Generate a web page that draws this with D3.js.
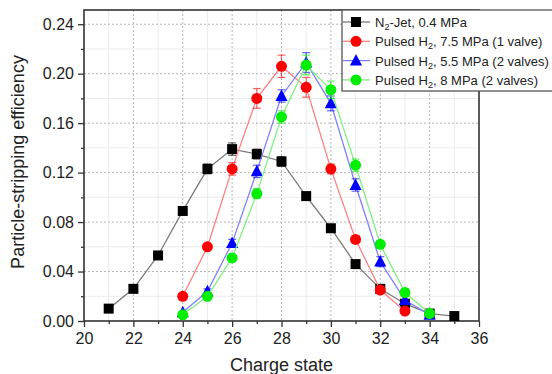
<!DOCTYPE html>
<html>
<head>
<meta charset="utf-8">
<script src="https://cdn.jsdelivr.net/npm/d3@7"></script>
<style>
  body { margin: 0; background: #fff; }
  svg { display: block; font-family: "Liberation Sans", Arial, sans-serif; }
</style>
</head>
<body>
<div id="chart"></div>
<script>
// charge states per series
const xN2 = [21, 22, 23, 24, 25, 26, 27, 28, 29, 30, 31, 32, 33, 34, 35];
const xH2 = [24, 25, 26, 27, 28, 29, 30, 31, 32, 33, 34];

const yN2 = [0.010, 0.026, 0.053, 0.089, 0.123, 0.139, 0.135, 0.129, 0.101, 0.075, 0.046, 0.026, 0.014, 0.006, 0.004];
const eN2 = [0.002, 0.002, 0.002, 0.003, 0.004, 0.005, 0.004, 0.004, 0.003, 0.002, 0.002, 0.002, 0.002, 0.001, 0.001];

const yRed = [0.020, 0.060, 0.123, 0.180, 0.206, 0.189, 0.123, 0.066, 0.025, 0.008];
const eRed = [0.002, 0.002, 0.005, 0.008, 0.009, 0.008, 0.004, 0.003, 0.002, 0.001];

const yBlue = [0.007, 0.024, 0.063, 0.121, 0.182, 0.209, 0.176, 0.110, 0.048, 0.017, 0.005];
const eBlue = [0.001, 0.002, 0.003, 0.005, 0.005, 0.008, 0.006, 0.005, 0.004, 0.003, 0.002];

const yGreen = [0.005, 0.020, 0.051, 0.103, 0.165, 0.207, 0.187, 0.126, 0.062, 0.023, 0.006];
const eGreen = [0.001, 0.002, 0.003, 0.004, 0.005, 0.008, 0.007, 0.005, 0.003, 0.003, 0.001];

const xTicks = [20, 22, 24, 26, 28, 30, 32, 34, 36];
const yTicks = [0.00, 0.04, 0.08, 0.12, 0.16, 0.20, 0.24];

const series = [
    { name: 'N2', label: ['N', '2', '-Jet, 0.4 MPa'], xs: xN2, ys: yN2, es: eN2, color: '#000000', line: '#7a7a7a', shape: 'square' },
    { name: 'red', label: ['Pulsed H', '2', ', 7.5 MPa (1 valve)'], xs: xH2, ys: yRed, es: eRed, color: '#ff0000', line: '#ff8080', shape: 'circle' },
    { name: 'blue', label: ['Pulsed H', '2', ', 5.5 MPa (2 valves)'], xs: xH2, ys: yBlue, es: eBlue, color: '#0000ff', line: '#8080ff', shape: 'triangle' },
    { name: 'green', label: ['Pulsed H', '2', ', 8 MPa (2 valves)'], xs: xH2, ys: yGreen, es: eGreen, color: '#00ee00', line: '#80f080', shape: 'circle' }
];

const width = 552, height = 374;
const margin = { top: 10, right: 73, bottom: 53, left: 84 };
const iw = width - margin.left - margin.right;
const ih = height - margin.top - margin.bottom;

const svg = d3.select('#chart').append('svg')
    .attr('width', width)
    .attr('height', height);

const g = svg.append('g').attr('transform', `translate(${margin.left},${margin.top})`);

const x = d3.scaleLinear().domain([20, 36]).range([0, iw]);
const y = d3.scaleLinear().domain([0, 0.2515]).range([ih, 0]);

// minor grid
const xMinor = d3.range(21, 36, 2);
const yMinor = d3.range(0.02, 0.25, 0.04);
g.append('g').selectAll('line').data(xMinor).join('line')
    .attr('x1', d => x(d)).attr('x2', d => x(d))
    .attr('y1', 0).attr('y2', ih)
    .attr('stroke', '#ebebeb').attr('stroke-width', 1);
g.append('g').selectAll('line').data(yMinor).join('line')
    .attr('x1', 0).attr('x2', iw)
    .attr('y1', d => y(d)).attr('y2', d => y(d))
    .attr('stroke', '#ebebeb').attr('stroke-width', 1);

// major grid
g.append('g').selectAll('line').data(xTicks.slice(1, -1)).join('line')
    .attr('x1', d => x(d)).attr('x2', d => x(d))
    .attr('y1', 0).attr('y2', ih)
    .attr('stroke', '#b5b5b5').attr('stroke-dasharray', '2,2');
g.append('g').selectAll('line').data(yTicks.slice(1)).join('line')
    .attr('x1', 0).attr('x2', iw)
    .attr('y1', d => y(d)).attr('y2', d => y(d))
    .attr('stroke', '#b5b5b5').attr('stroke-dasharray', '2,2');

// axes
const xAxis = g.append('g').attr('transform', `translate(0,${ih})`)
    .call(d3.axisBottom(x).tickValues(xTicks).tickFormat(d3.format('d')).tickSize(6).tickPadding(6));
const xAxisMinor = g.append('g').attr('transform', `translate(0,${ih})`)
    .call(d3.axisBottom(x).tickValues(xMinor).tickFormat('').tickSize(3));
const yAxis = g.append('g')
    .call(d3.axisLeft(y).tickValues(yTicks).tickFormat(d3.format('.2f')).tickSize(6).tickPadding(4));
const yAxisMinor = g.append('g')
    .call(d3.axisLeft(y).tickValues(yMinor).tickFormat('').tickSize(3));

[xAxis, xAxisMinor, yAxis, yAxisMinor].forEach(a => {
    a.select('.domain').remove();
    a.selectAll('.tick line').attr('stroke', '#333').attr('stroke-width', 1.3);
    a.selectAll('text').attr('font-size', 16).attr('fill', '#222')
        .attr('font-family', '"Liberation Sans", Arial, sans-serif');
});

// frame
g.append('rect')
    .attr('x', 0).attr('y', 0).attr('width', iw).attr('height', ih)
    .attr('fill', 'none').attr('stroke', '#333').attr('stroke-width', 1.6);

// axis titles
svg.append('text')
    .attr('x', margin.left + iw / 2).attr('y', 371)
    .attr('text-anchor', 'middle').attr('font-size', 18).attr('fill', '#222')
    .text('Charge state');
svg.append('text')
    .attr('transform', 'translate(24,162) rotate(-90)')
    .attr('text-anchor', 'middle').attr('font-size', 18).attr('fill', '#222')
    .text('Particle-stripping efficiency');

const line = d3.line().x(d => x(d[0])).y(d => y(d[1]));

function drawMarker(sel, shape, color, size) {
    if (shape === 'square') {
        sel.append('rect').attr('x', -size / 2).attr('y', -size / 2)
            .attr('width', size).attr('height', size).attr('fill', color);
    } else if (shape === 'circle') {
        sel.append('circle').attr('r', size / 2 + 0.5).attr('fill', color);
    } else {
        const s = size + 1;
        sel.append('path')
            .attr('d', `M0,${-s * 0.6}L${s * 0.55},${s * 0.45}L${-s * 0.55},${s * 0.45}Z`)
            .attr('fill', color);
    }
}

series.forEach(s => {
    const pts = s.xs.slice(0, s.ys.length).map((xv, i) => [xv, s.ys[i], s.es[i]]);
    const sg = g.append('g').attr('class', `series-${s.name}`);

    sg.append('path').datum(pts)
        .attr('d', line)
        .attr('fill', 'none')
        .attr('stroke', s.line)
        .attr('stroke-width', 1.3);

    // error bars
    const eb = sg.append('g').selectAll('g').data(pts).join('g')
        .attr('stroke', s.color).attr('stroke-opacity', 0.6).attr('stroke-width', 1.2);
    eb.append('line')
        .attr('x1', d => x(d[0])).attr('x2', d => x(d[0]))
        .attr('y1', d => y(d[1] - d[2])).attr('y2', d => y(d[1] + d[2]));
    eb.append('line')
        .attr('x1', d => x(d[0]) - 4).attr('x2', d => x(d[0]) + 4)
        .attr('y1', d => y(d[1] + d[2])).attr('y2', d => y(d[1] + d[2]));
    eb.append('line')
        .attr('x1', d => x(d[0]) - 4).attr('x2', d => x(d[0]) + 4)
        .attr('y1', d => y(d[1] - d[2])).attr('y2', d => y(d[1] - d[2]));

    const m = sg.append('g').selectAll('g').data(pts).join('g')
        .attr('transform', d => `translate(${x(d[0])},${y(d[1])})`);
    drawMarker(m, s.shape, s.color, 10);
});

// legend
const lg = svg.append('g').attr('transform', 'translate(342,10)');
lg.append('rect')
    .attr('x', 0).attr('y', 0).attr('width', 215).attr('height', 81)
    .attr('fill', '#fff').attr('stroke', '#555').attr('stroke-width', 1.3);

const labels = [];
series.forEach((s, i) => {
    const row = lg.append('g').attr('transform', `translate(0,${12 + i * 19.3})`);
    row.append('line').attr('x1', 1).attr('x2', 28).attr('y1', 0).attr('y2', 0)
        .attr('stroke', s.line).attr('stroke-width', 1.3);
    const mk = row.append('g').attr('transform', 'translate(14,0)');
    drawMarker(mk, s.shape, s.color, 10);
    const t = row.append('text').attr('x', 33).attr('y', 5)
        .attr('font-size', 13).attr('fill', '#222');
    t.append('tspan').text(s.label[0]);
    t.append('tspan').attr('class', 'sub').attr('font-size', 9).attr('dy', 3).text(s.label[1]);
    t.append('tspan').attr('dy', -3).text(s.label[2]);
    labels.push(t);
});

// the longest label in the reference is about 174px wide
const longest = d3.max(labels, t => t.node().getComputedTextLength());
const fs = 13 * 174 / longest;
labels.forEach(t => {
    t.attr('font-size', fs);
    t.select('.sub').attr('font-size', fs * 0.7);
});
</script>
</body>
</html>
